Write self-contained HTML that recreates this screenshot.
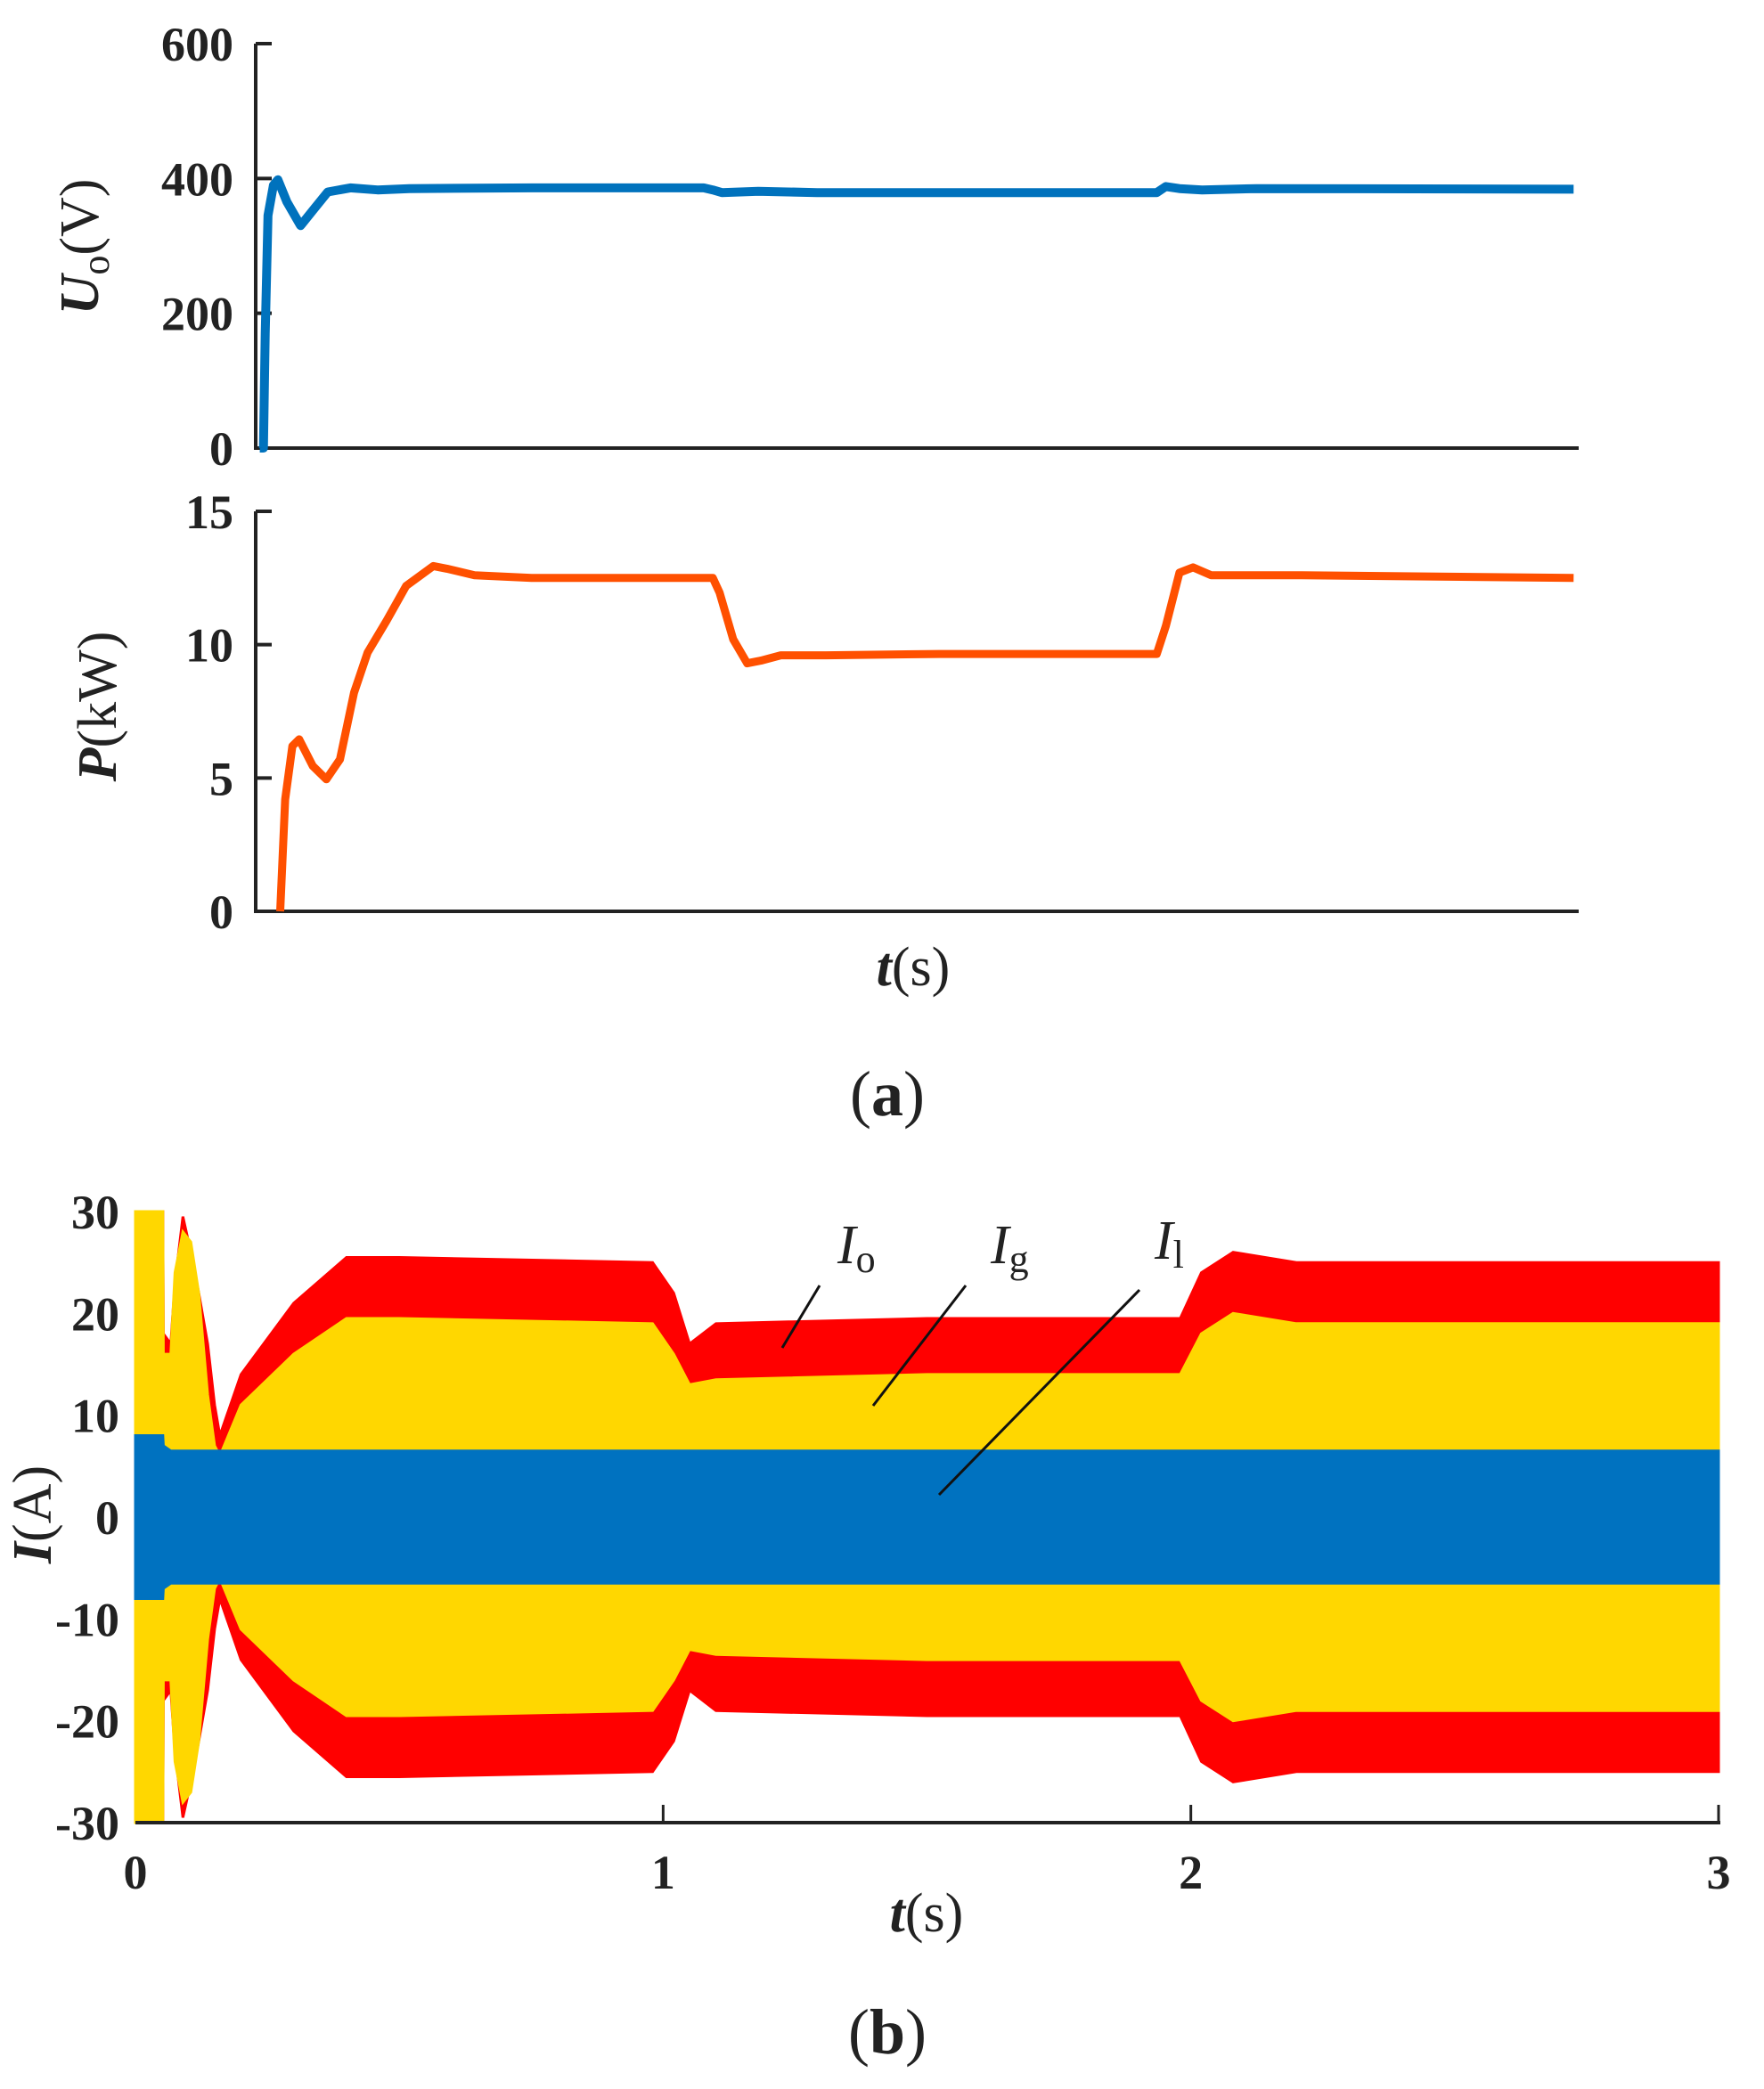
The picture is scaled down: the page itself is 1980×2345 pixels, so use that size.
<!DOCTYPE html>
<html><head><meta charset="utf-8">
<style>
html,body{margin:0;padding:0;background:#fff;}
svg{display:block;}
text{font-family:"Liberation Serif",serif;fill:#222;}
.tick{font-size:54px;font-weight:bold;}
</style></head>
<body>
<svg id="fig" width="1980" height="2345" viewBox="0 0 1980 2345" xmlns="http://www.w3.org/2000/svg">
  <g id="pa"></g>
  <g id="pb"></g>
  <g id="pc"></g>
  <text x="1025" y="1106" text-anchor="middle" font-size="62"><tspan font-weight="bold" font-style="italic">t</tspan>(s)</text>
  <text x="996" y="1252" text-anchor="middle" font-size="72">(<tspan font-weight="bold">a</tspan>)</text>
  <text x="1040" y="2168" text-anchor="middle" font-size="62"><tspan font-weight="bold" font-style="italic">t</tspan>(s)</text>
  <text x="996" y="2305" text-anchor="middle" font-size="72">(<tspan font-weight="bold">b</tspan>)</text>
  <text transform="translate(110,277) rotate(-90)" text-anchor="middle" font-size="62"><tspan font-weight="bold" font-style="italic">U</tspan><tspan font-size="44" dy="12">o</tspan><tspan dy="-12">(V)</tspan></text>
  <text transform="translate(130,793) rotate(-90)" text-anchor="middle" font-size="62"><tspan font-weight="bold" font-style="italic">P</tspan>(kW)</text>
  <text transform="translate(57,1700) rotate(-90)" text-anchor="middle" font-size="62"><tspan font-weight="bold" font-style="italic">I</tspan>(A)</text>
</svg>
<script>
// ---- data ----
var uT = [0,0.008,0.012,0.018,0.03,0.04,0.06,0.09,0.12,0.15,0.2,0.26,0.33,0.6,0.98,1.0,1.02,1.1,1.23,1.98,2.0,2.03,2.08,2.2,2.9];
var uV = [0,0,170,345,390,398,365,330,355,380,386,383,385,386,386,383,379,381,379,379,388,385,383,385,384];
var pT = [0.045,0.056,0.072,0.087,0.117,0.147,0.177,0.208,0.238,0.28,0.323,0.383,0.413,0.474,0.6,1.0,1.015,1.045,1.076,1.106,1.15,1.25,1.5,1.98,2.0,2.03,2.06,2.1,2.3,2.9];
var pV = [0,4.2,6.2,6.45,5.45,4.95,5.7,8.2,9.7,10.9,12.2,12.95,12.85,12.6,12.5,12.5,11.95,10.2,9.3,9.4,9.6,9.6,9.65,9.65,10.7,12.7,12.9,12.6,12.6,12.5];
var uTicks = [0,200,400,600];
var pTicks = [0,5,10,15];
var iTicks = [30,20,10,0,-10,-20,-30];
var xTicks = [0,1,2,3];
var envT = [0,0.052,0.053,0.067,0.075,0.09,0.105,0.12,0.137,0.15,0.16,0.2,0.3,0.4,0.5,0.98,1.02,1.05,1.1,1.5,1.98,2.02,2.08,2.2,3.0];
var redA = [30,30,18,17,23,29.5,26,22,17,11,8,14,21,25.5,25.5,25,22,17,19,19.5,19.5,24,26,25,25];
var yelA = [30,30,16,16,24,28,27,22,12,7,6,11,16,19.5,19.5,19,16,13,13.5,14,14,18,20,19,19];
var bluA = [8,8,7,6.5,6.5,6.5,6.5,6.5,6.5,6.5,6.5,6.5,6.5,6.5,6.5,6.5,6.5,6.5,6.5,6.5,6.5,6.5,6.5,6.5,6.5];

var NS='http://www.w3.org/2000/svg';
function mk(tag,attrs,parent){var e=document.createElementNS(NS,tag);for(var k in attrs)e.setAttribute(k,attrs[k]);parent.appendChild(e);return e;}

function xa(t){return 291.6+t*508.5;}
function yu(v){return 503-v*(503-49)/600;}
function yp(v){return 1023-v*(1023-574)/15;}
function xb(t){return 152+t*(1929-152)/3;}
function yi(v){return 1703-v*(2046-1360)/60;}

function panel(g,ytop,ybot,ticks,yf){
  var ax=mk('path',{d:'M287 '+ytop+' V'+ybot+' H1772',stroke:'#222','stroke-width':4,fill:'none'},g);
  
  
  ticks.forEach(function(v){
    var y=yf(v);
    var tl=mk('line',{x1:287,x2:305,y1:y,y2:y,stroke:'#222','stroke-width':4},g);
    
    
    var tx=mk('text',{x:262,y:y+19,'text-anchor':'end','class':'tick'},g);
    tx.textContent=v;
    
    
  });
}
var pa=document.getElementById('pa'), pb=document.getElementById('pb'), pc=document.getElementById('pc');
panel(pa,49,503,uTicks,yu);
panel(pb,574,1023,pTicks,yp);
var d='';uT.forEach(function(t,i){d+=(i?'L':'M')+xa(t).toFixed(1)+' '+yu(uV[i]).toFixed(1);});
var ul=mk('path',{d:d,stroke:'#0072bd','stroke-width':10,fill:'none','stroke-linejoin':'round'},pa);


d='';pT.forEach(function(t,i){d+=(i?'L':'M')+xa(t).toFixed(1)+' '+yp(pV[i]).toFixed(1);});
var pl=mk('path',{d:d,stroke:'#ff5000','stroke-width':9,fill:'none','stroke-linejoin':'round'},pb);



function band(arr,color,name){
  var up='',lo='';
  envT.forEach(function(t,i){up+=(i?'L':'M')+xb(t).toFixed(1)+' '+yi(arr[i]).toFixed(1);});
  for(var i=envT.length-1;i>=0;i--){lo+='L'+xb(envT[i]).toFixed(1)+' '+yi(-arr[i]).toFixed(1);}
  var p=mk('path',{d:up+lo+'Z',fill:color,stroke:color,'stroke-width':3},pc);
  
  
}
band(redA,'#ff0000','io-band');
band(yelA,'#ffd700','ig-band');
band(bluA,'#0072c0','il-band');
var xl=mk('line',{x1:152,x2:1931,y1:2046,y2:2046,stroke:'#222','stroke-width':4},pc);


xTicks.forEach(function(v){
  var x=xb(v);
  if(v>0){var tl=mk('line',{x1:x,x2:x,y1:2046,y2:2026,stroke:'#222','stroke-width':3},pc);
  
  }
  var tx=mk('text',{x:x,y:2120,'text-anchor':'middle','class':'tick'},pc);
  tx.textContent=v;
  
  
});
iTicks.forEach(function(v){
  var tx=mk('text',{x:134,y:yi(v)+19,'text-anchor':'end','class':'tick'},pc);
  tx.textContent=v;
  
  
});
var ann=[['Io','o',940,1418,[920,1443,878,1513]],['Ig','g',1112,1418,[1084,1443,980,1578]],['Il','l',1296,1413,[1279,1448,1054,1678]]];
ann.forEach(function(a){
  var l=mk('line',{x1:a[4][0],y1:a[4][1],x2:a[4][2],y2:a[4][3],stroke:'#111','stroke-width':3},pc);
  
  
  var t=mk('text',{x:a[2],y:a[3],'font-size':62,'font-style':'italic'},pc);
  
  
  t.innerHTML='I<tspan font-style="normal" font-size="44" dy="10">'+a[1]+'</tspan>';
});
</script>
</body></html>
